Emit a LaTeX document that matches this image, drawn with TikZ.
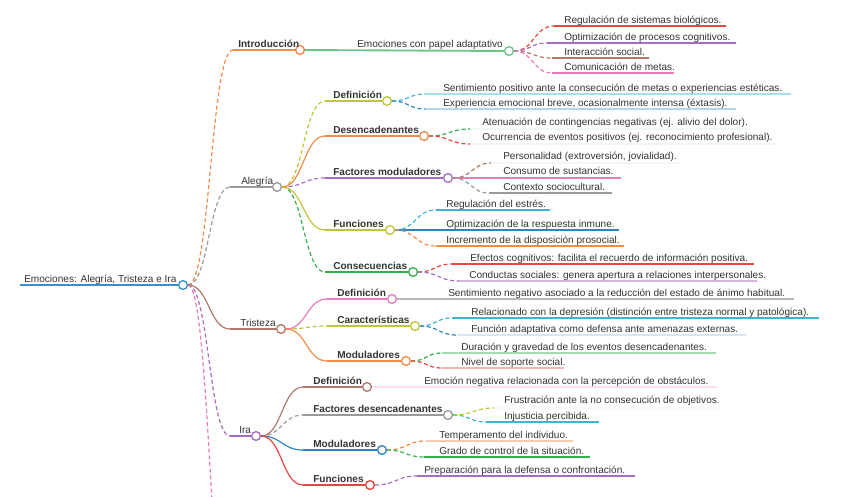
\documentclass[tikz,border=0pt]{standalone}
\usepackage{fontspec}
\setmainfont{Liberation Sans}
\usepackage{tikz}
\usetikzlibrary{calc,backgrounds}
\definecolor{ink}{HTML}{333333}
\definecolor{rootblue}{HTML}{3A8FC7}
\definecolor{mmorange}{HTML}{F28C4B}
\definecolor{mmgrey}{HTML}{9A9A9A}
\definecolor{mmbrown}{HTML}{B07A6A}
\definecolor{mmpurple}{HTML}{A86CC1}
\definecolor{mmpink}{HTML}{E87BBB}
\definecolor{mmolive}{HTML}{C2C43A}
\definecolor{mmgreen}{HTML}{35AE4E}
\definecolor{mmlgreen}{HTML}{6DC48A}
\definecolor{mmred}{HTML}{E8463F}
\definecolor{mmcyan}{HTML}{3DB6D6}
\definecolor{mmblue}{HTML}{2E86C1}
\tikzset{
  hub/.style={circle, draw=#1, fill=white, line width=1pt, minimum size=6.6pt,
              inner sep=0pt},
  bline/.style={draw=#1, line width=1.4pt},
  uline/.style={draw=#1, line width=1pt},
  link/.style={draw=#1, line width=0.9pt},
  dsh/.style={dash pattern=on 3pt off 2pt},
  sbend/.style={to path={let \p1=(\tikztostart), \p2=(\tikztotarget) in
      .. controls ({0.5*\x1+0.5*\x2},\y1) and ({0.5*\x1+0.5*\x2},\y2)
      .. (\tikztotarget)}},
  txt/.style={anchor=base west, inner sep=0pt, text=ink,
              font=\fontsize{7.55}{9}\selectfont},
  lab/.style={txt, font=\fontsize{7.55}{9}\selectfont\bfseries},
}

\begin{document}
\begin{tikzpicture}[x=0.75pt, y=-0.75pt]
\useasboundingbox (0,0) rectangle (848,496);
\clip (0,0) rectangle (848,496);

% hubs
\node[hub=rootblue] (root)  at (183,285) {};
\node[hub=mmorange] (intro) at (300,50)  {};
\node[hub=mmgrey]   (ale)   at (277,187) {};
\node[hub=mmbrown]  (tri)   at (281,329) {};
\node[hub=mmpurple] (ira)   at (256,436) {};
\node[hub=mmlgreen] (emo)   at (509,51)  {};
\node[hub=mmolive]  (aDef)  at (387,101) {};
\node[hub=mmorange] (aDes)  at (424,136) {};
\node[hub=mmpurple] (aFac)  at (448,178) {};
\node[hub=mmolive]  (aFun)  at (390,230) {};
\node[hub=mmgreen]  (aCon)  at (413,272) {};
\node[hub=mmpink]   (tDef)  at (392,299) {};
\node[hub=mmolive]  (tCar)  at (415,326) {};
\node[hub=mmorange] (tMod)  at (406,361) {};
\node[hub=mmbrown]  (iDef)  at (367,387) {};
\node[hub=mmgrey]   (iFac)  at (448,415) {};
\node[hub=mmblue]   (iMod)  at (382,450) {};
\node[hub=mmred]    (iFun)  at (370,485) {};
\coordinate (more) at (232,650);

% labels
\node[txt] (rootT)  at (24,282)  {Emociones: Alegría, Tristeza e Ira};
\node[lab] (introT) at (238,47)  {Introducción};
\node[txt] (aleT)   at (241,184) {Alegría};
\node[txt] (triT)   at (240,326) {Tristeza};
\node[txt] (iraT)   at (239,433) {Ira};
\node[txt] (emoT)   at (357,47)  {Emociones con papel adaptativo};
\node[lab] (aDefT)  at (333,98)  {Definición};
\node[lab] (aDesT)  at (333,133) {Desencadenantes};
\node[lab] (aFacT)  at (333,175) {Factores moduladores};
\node[lab] (aFunT)  at (333,227) {Funciones};
\node[lab] (aConT)  at (333,269) {Consecuencias};
\node[lab] (tDefT)  at (337,296) {Definición};
\node[lab] (tCarT)  at (337,323) {Características};
\node[lab] (tModT)  at (337,358) {Moduladores};
\node[lab] (iDefT)  at (313,384) {Definición};
\node[lab] (iFacT)  at (313,412) {Factores desencadenantes};
\node[lab] (iModT)  at (313,447) {Moduladores};
\node[lab] (iFunT)  at (313,482) {Funciones};

% leaves
\node[txt] (e1)  at (564,23)  {Regulación de sistemas biológicos.};
\node[txt] (e2)  at (564,40)  {Optimización de procesos cognitivos.};
\node[txt] (e3)  at (564,55)  {Interacción social.};
\node[txt] (e4)  at (564,70)  {Comunicación de metas.};
\node[txt] (a11) at (443,91)  {Sentimiento positivo ante la consecución de metas o experiencias estéticas.};
\node[txt] (a12) at (443,106) {Experiencia emocional breve, ocasionalmente intensa (éxtasis).};
\node[txt] (a21) at (482,125) {Atenuación de contingencias negativas (ej. alivio del dolor).};
\node[txt] (a22) at (482,140) {Ocurrencia de eventos positivos (ej. reconocimiento profesional).};
\node[txt] (a31) at (503,159) {Personalidad (extroversión, jovialidad).};
\node[txt] (a32) at (503,174) {Consumo de sustancias.};
\node[txt] (a33) at (503,190) {Contexto sociocultural.};
\node[txt] (a41) at (446,207) {Regulación del estrés.};
\node[txt] (a42) at (446,227) {Optimización de la respuesta inmune.};
\node[txt] (a43) at (446,243) {Incremento de la disposición prosocial.};
\node[txt] (a51) at (470,261) {Efectos cognitivos: facilita el recuerdo de información positiva.};
\node[txt] (a52) at (469,278) {Conductas sociales: genera apertura a relaciones interpersonales.};
\node[txt] (t11) at (448,296) {Sentimiento negativo asociado a la reducción del estado de ánimo habitual.};
\node[txt] (t21) at (471,315) {Relacionado con la depresión (distinción entre tristeza normal y patológica).};
\node[txt] (t22) at (471,332) {Función adaptativa como defensa ante amenazas externas.};
\node[txt] (t31) at (461,350) {Duración y gravedad de los eventos desencadenantes.};
\node[txt] (t32) at (461,365) {Nivel de soporte social.};
\node[txt] (i11) at (424,384) {Emoción negativa relacionada con la percepción de obstáculos.};
\node[txt] (i21) at (504,403) {Frustración ante la no consecución de objetivos.};
\node[txt] (i22) at (504,419) {Injusticia percibida.};
\node[txt] (i31) at (439,438) {Temperamento del individuo.};
\node[txt] (i32) at (439,454) {Grado de control de la situación.};
\node[txt] (i41) at (424,473) {Preparación para la defensa o confrontación.};

\begin{scope}[on background layer]
% branch lines
\foreach \nm/\cl/\xa/\yy in {root/rootblue/20/285, intro/mmorange/233/50,
    ale/mmgrey/230/187, tri/mmbrown/230/329, ira/mmpurple/230/436,
    aDef/mmolive/325/101, aDes/mmorange/325/136, aFac/mmpurple/325/178,
    aFun/mmolive/325/230, aCon/mmgreen/325/272, tDef/mmpink/327/299,
    tCar/mmolive/327/326, tMod/mmorange/327/361, iDef/mmbrown/303/387,
    iFac/mmgrey/303/415, iMod/mmblue/303/450, iFun/mmred/303/485}{
  \coordinate (\nm-s) at (\xa,\yy);
  \draw[bline=\cl] (\nm-s) -- (\nm);}
\draw[bline=mmlgreen] (intro) -- (emo);

% leaf underlines
\foreach \nm/\cl/\xa/\xb/\yy in {e1/mmred/554/726/26, e2/mmpurple/547/736/43,
    e3/mmbrown/552/649/58, e4/mmpink/552/674/73,
    a11/mmcyan!45/425/791/94, a12/mmblue!35/425/736/109,
    a21/mmgreen!8/470/750/129, a22/mmred!8/470/776/144,
    a31/mmbrown!8/491/680/163, a33/mmgrey/489/612/193,
    a41/mmcyan/436/550/210, a43/mmorange/436/624/246,
    a51/mmred/452/754/264, a52/mmpurple!50/459/757/281,
    t21/mmcyan/452/819/318, t22/mmblue!20/457/746/335,
    t31/mmgreen!45/442/716/353, t32/mmred!40/442/564/368,
    i21/mmolive!8/494/720/408, i22/mmcyan/486/599/422,
    i31/mmorange!45/426/573/441, i32/mmgreen/424/590/457,
    i41/mmpurple/417/635/476}{
  \coordinate (\nm-s) at (\xa,\yy);
  \coordinate (\nm-e) at (\xb,\yy);
  \draw[uline=\cl] (\nm-s) -- (\nm-e);}
\foreach \src/\nm/\cl/\xb/\yy in {aFac/a32/mmpink/621/178, aFun/a42/mmblue/619/230,
    tDef/t11/mmgrey!70/794/299, iDef/i11/mmpink!25/717/387}{
  \coordinate (\nm-e) at (\xb,\yy);
  \draw[uline=\cl] (\src) -- (\nm-e);}

% connectors
\foreach \src/\dst/\cl in {root/intro-s/mmorange, root/ale-s/mmgrey,
    root/ira-s/mmpurple, root/more/mmpink,
    ale/aDef-s/mmolive, ale/aFac-s/mmpurple, ale/aCon-s/mmgreen,
    tri/tCar-s/mmolive, ira/iFac-s/mmgrey,
    emo/e1-s/mmred, emo/e2-s/mmpurple, emo/e3-s/mmbrown, emo/e4-s/mmpink,
    aDef/a11-s/mmcyan, aDef/a12-s/mmblue, aDes/a21-s/mmgreen,
    aDes/a22-s/mmred, aFac/a31-s/mmbrown, aFac/a33-s/mmgrey,
    aFun/a41-s/mmcyan, aFun/a43-s/mmorange, aCon/a51-s/mmred,
    aCon/a52-s/mmpurple, tCar/t21-s/mmcyan, tCar/t22-s/mmblue,
    tMod/t31-s/mmgreen, tMod/t32-s/mmred, iFac/i21-s/mmolive,
    iFac/i22-s/mmcyan, iMod/i31-s/mmorange, iMod/i32-s/mmgreen,
    iFun/i41-s/mmpurple}{
  \draw[link=\cl, dsh] (\src.east) to[sbend] (\dst);}
\foreach \src/\dst/\cl in {root/tri-s/mmbrown, ale/aDes-s/mmorange,
    ale/aFun-s/mmolive, tri/tDef-s/mmpink, tri/tMod-s/mmorange,
    ira/iDef-s/mmbrown, ira/iMod-s/mmblue, ira/iFun-s/mmred}{
  \draw[link=\cl] (\src.east) to[sbend] (\dst);}
\end{scope}
\end{tikzpicture}
\end{document}
